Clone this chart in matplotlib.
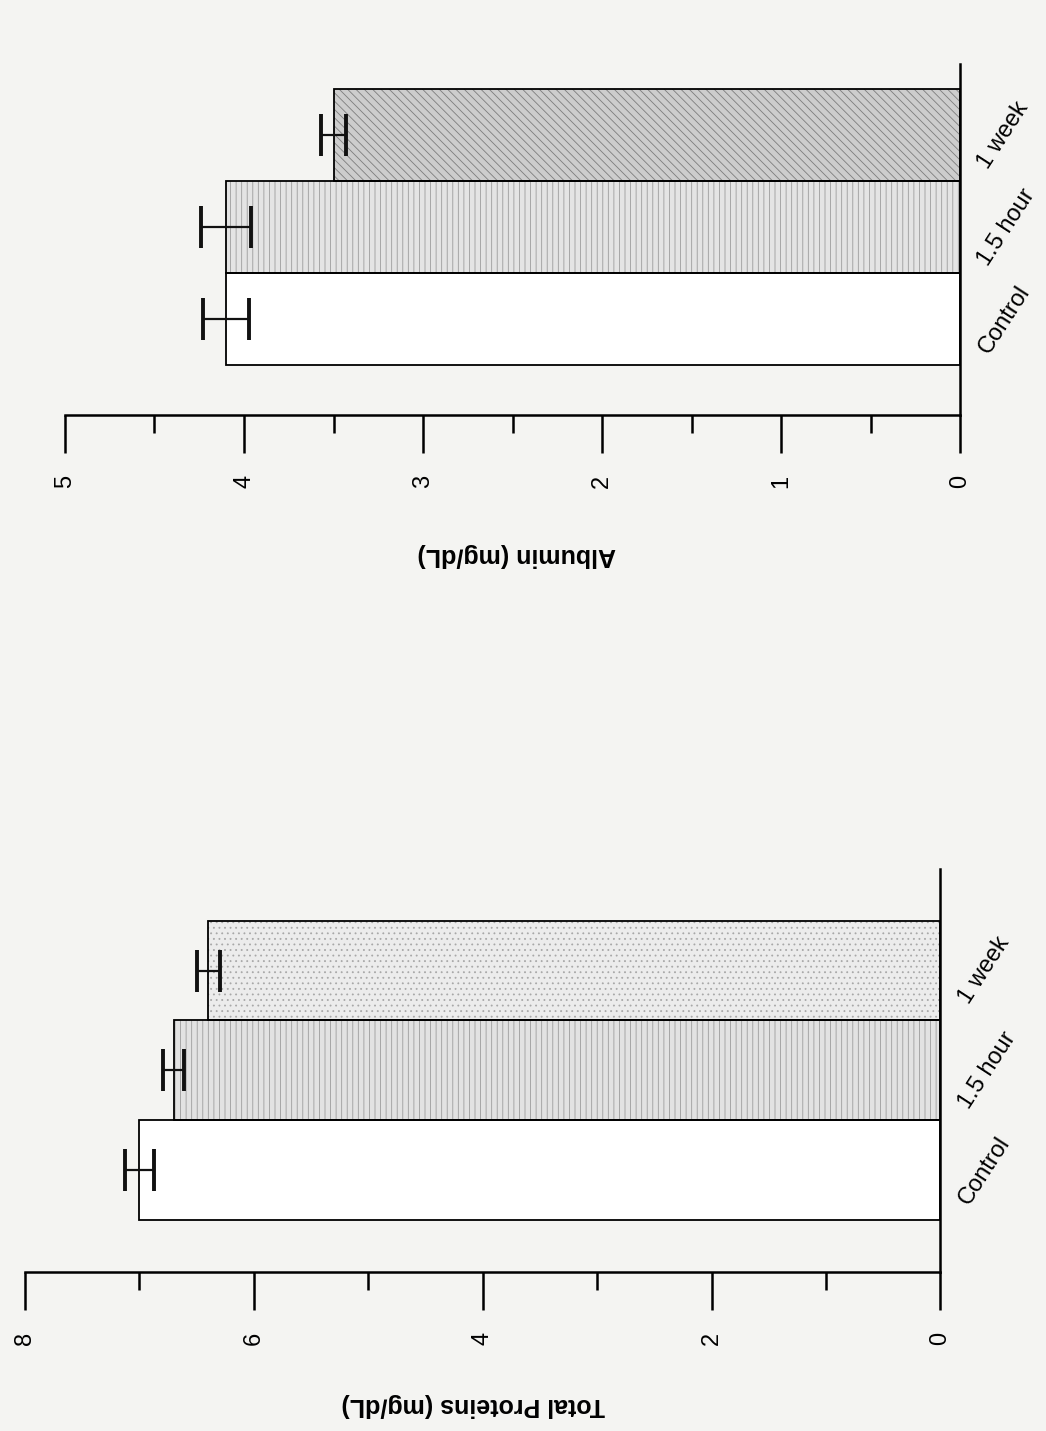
import matplotlib
matplotlib.use("Agg")
import matplotlib.pyplot as plt
import matplotlib.ticker as mticker

# data
groups = ['Control', '1.5 hour', '1 week']
albumin_mean = [4.1, 4.1, 3.5]
albumin_err = [0.13, 0.14, 0.07]
protein_mean = [7.0, 6.7, 6.4]
protein_err = [0.13, 0.09, 0.10]

plt.rcParams['font.family'] = ['Liberation Sans', 'DejaVu Sans']
plt.rcParams['hatch.linewidth'] = 0.6

bg = '#f4f4f2'
fig = plt.figure(figsize=(10.46, 14.31), dpi=100, facecolor=bg)


def draw_panel(ax, means, errs, vmax, label, fills, hatches, hcolors, label_xy):
    ax.set_facecolor('none')
    pos = list(range(len(means)))
    # hatch layer first, then black outline on top
    ax.barh(pos, means, height=1.0, color=fills, edgecolor=hcolors,
            hatch=hatches, linewidth=0, zorder=1)
    ax.barh(pos, means, height=1.0, fill=False, edgecolor='black',
            linewidth=1.3, zorder=2)
    ax.errorbar(means, pos, xerr=errs, fmt='none', ecolor='#111111',
                elinewidth=1.6, capsize=15, capthick=2.8, zorder=3)

    ax.set_xlim(0, vmax)
    ax.invert_xaxis()
    ax.xaxis.set_major_locator(mticker.MultipleLocator(1 if vmax <= 5 else 2))
    ax.xaxis.set_minor_locator(mticker.MultipleLocator(0.5 if vmax <= 5 else 1))
    ax.tick_params(axis='x', which='major', direction='out', length=27,
                   width=1.8, labelsize=17, labelrotation=90, pad=16)
    ax.tick_params(axis='x', which='minor', direction='out', length=13, width=1.8)

    ax.yaxis.tick_right()
    ax.set_yticks(pos)
    ax.set_yticklabels(groups, rotation=57, ha='left', va='center', fontsize=17)
    ax.tick_params(axis='y', length=0, pad=10)

    for s in ['top', 'left']:
        ax.spines[s].set_visible(False)
    for s in ['bottom', 'right']:
        ax.spines[s].set_linewidth(1.8)

    ax.text(label_xy[0], label_xy[1], label, transform=ax.transAxes,
            rotation=180, ha='center', va='center', fontsize=18,
            fontweight='bold')


# top panel: albumin
ax1 = fig.add_axes([0.0621, 0.710, 0.918 - 0.0621, 0.245])
ax1.set_ylim(-1.04, 2.77)
draw_panel(ax1, albumin_mean, albumin_err, 5, 'Albumin (mg/dL)',
           ['white', '#e4e4e4', '#cdcdcd'], ['', '|||', '\\\\\\\\'],
           ['white', '#9c9c9c', '#7d7d7d'], (0.505, -0.40))

# bottom panel: total proteins
ax2 = fig.add_axes([0.0239, 0.111, 0.899 - 0.0239, 0.282])
ax2.set_ylim(-1.02, 3.02)
draw_panel(ax2, protein_mean, protein_err, 8, 'Total Proteins (mg/dL)',
           ['white', '#e2e2e2', '#ececec'], ['', '|||', '...'],
           ['white', '#9c9c9c', '#a8a8a8'], (0.49, -0.33))

plt.savefig('out.png', dpi=100, facecolor=bg)
